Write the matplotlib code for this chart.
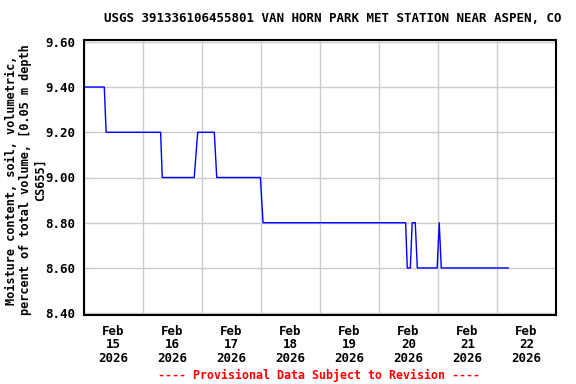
import matplotlib
matplotlib.use("Agg")
import matplotlib.pyplot as plt
import matplotlib.dates as mdates
import pandas as pd

# readings (soil moisture %, 0.05 m depth)
times = ["2026-02-15 00:00", "2026-02-15 08:15", "2026-02-15 09:00",
         "2026-02-16 07:10", "2026-02-16 07:50", "2026-02-16 20:50",
         "2026-02-16 22:15", "2026-02-17 05:00", "2026-02-17 06:00",
         "2026-02-17 23:45", "2026-02-18 00:50", "2026-02-20 10:50",
         "2026-02-20 11:30", "2026-02-20 12:45", "2026-02-20 13:30",
         "2026-02-20 14:45", "2026-02-20 15:35", "2026-02-20 23:40",
         "2026-02-21 00:30", "2026-02-21 01:20", "2026-02-22 04:35"]
moisture = [9.40, 9.40, 9.20,
            9.20, 9.00, 9.00,
            9.20, 9.20, 9.00,
            9.00, 8.80, 8.80,
            8.60, 8.60, 8.80,
            8.80, 8.60, 8.60,
            8.80, 8.60, 8.60]
y_ticks = [8.40, 8.60, 8.80, 9.00, 9.20, 9.40, 9.60]

title = "USGS 391336106455801 VAN HORN PARK MET STATION NEAR ASPEN, CO"
ylab = "Moisture content, soil, volumetric,\npercent of total volume, [0.05 m depth\nCS655]"
footer = "---- Provisional Data Subject to Revision ----"

t = pd.to_datetime(times)
mono = {"family": "DejaVu Sans Mono", "weight": "bold"}

fig = plt.figure(figsize=(5.76, 3.84), dpi=100)
ax = fig.add_axes([84/576, 1 - 315/384, 472/576, 275/384])

ax.plot(t, moisture, color="#0000ff", lw=1.0)

ax.set_xlim(pd.Timestamp("2026-02-15"), pd.Timestamp("2026-02-23"))
ax.set_ylim(8.392, 9.608)

# day labels at noon, grid lines at midnight
ax.xaxis.set_major_locator(mdates.HourLocator(byhour=12))
ax.xaxis.set_major_formatter(mdates.DateFormatter("%b\n%d\n%Y"))
ax.xaxis.set_minor_locator(mdates.DayLocator())
ax.tick_params(axis="x", which="both", length=0, pad=7)
ax.grid(True, which="minor", axis="x", color="#cccccc", lw=1)

ax.set_yticks(y_ticks)
ax.set_yticklabels([f"{v:.2f}" for v in y_ticks])
ax.tick_params(axis="y", direction="in", length=4, color="#cccccc", pad=6)
ax.grid(True, which="major", axis="y", color="#cccccc", lw=1)

for lbl in ax.get_xticklabels() + ax.get_yticklabels():
    lbl.set_fontfamily(mono["family"])
    lbl.set_fontweight("bold")
    lbl.set_fontsize(9)
    lbl.set_linespacing(1.05)

for s in ax.spines.values():
    s.set_linewidth(1.5)
    s.set_color("black")

fig.text(333/576, 1 - 19/384, title, ha="center", va="center", fontsize=9, **mono)
fig.text(26/576, 1 - 180/384, ylab, ha="center", va="center", rotation=90,
         fontsize=8.6, linespacing=1.15, **mono)
fig.text(319/576, 1 - 375/384, footer, ha="center", va="center", fontsize=8.4,
         color="#ff0000", **mono)

fig.savefig("out.png", dpi=100)
